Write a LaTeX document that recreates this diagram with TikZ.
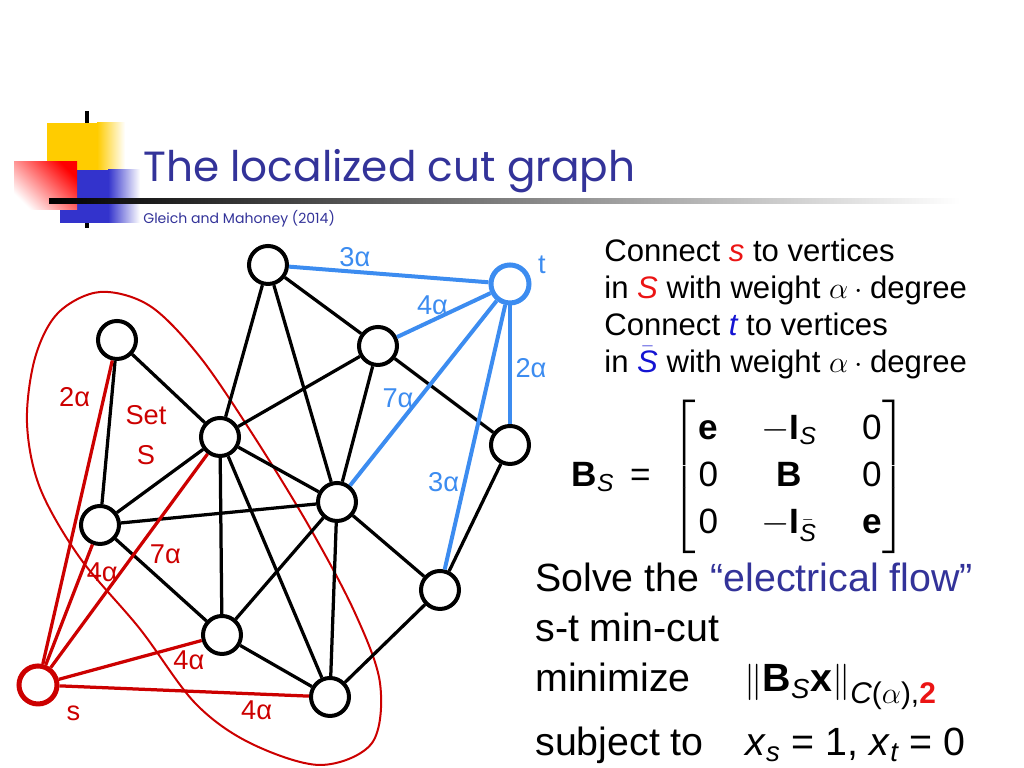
\documentclass[tikz,border=0pt]{standalone}
\usepackage{fontspec}
\usepackage{amsmath}
\usepackage{array}
\usepackage{xcolor}
\usepackage{tikz}
\usetikzlibrary{positioning}
\setmainfont{Liberation Sans}
\newfontfamily\titlefont{Poppins}
\definecolor{tblue}{RGB}{51,51,153}
\definecolor{sred}{RGB}{204,0,0}
\definecolor{tlink}{RGB}{60,140,240}
\definecolor{logoyel}{RGB}{255,204,0}
\definecolor{logoblu}{RGB}{51,51,204}
\definecolor{txtred}{RGB}{235,20,20}
\definecolor{txtblu}{RGB}{20,20,210}

\begin{document}
\begin{tikzpicture}[
		x=0.2mm, y=0.2mm,
		vtx/.style={circle,draw,line width=0.8mm,minimum size=7.6mm,inner sep=0pt,fill=white},
		edge/.style={line width=0.65mm},
		sedge/.style={edge,sred},
		tedge/.style={line width=0.8mm,tlink},
		wlbl/.style={font=\fontsize{15.5}{18}\selectfont,inner sep=2pt},
		rhs/.style={anchor=base west,inner sep=0pt,font=\fontsize{22.4}{27}\selectfont}
	]
	\useasboundingbox (0,0) rectangle (1024,768);

	% logo and title bar
	\draw[line width=0.8mm] (87,657) -- (87,540);
	\fill[logoyel] (47,598) rectangle (97,645);
	\shade[left color=logoyel,right color=white] (97,598) rectangle (125,645);
	\fill[logoblu] (60,545) rectangle (108,598);
	\shade[left color=logoblu,right color=white] (108,545) rectangle (140,598);
	\shade[top color=red,bottom color=white,shading angle=-45] (14,558) rectangle (77,606);
	\shade[left color=black,right color=white] (49,564.5) rectangle (960,569.5);

	\node[anchor=base west,inner sep=0pt,text=tblue,font=\titlefont\fontsize{24}{29}\selectfont] (title) at (143,586) {The localized cut graph};
	\node[anchor=base west,inner sep=0pt,text=tblue,font=\titlefont\fontsize{8}{10}\selectfont] (cite) at (143,544) {Gleich and Mahoney (2014)};

	% the set S
	\draw[sred,line width=0.4mm] plot[smooth cycle,tension=0.55] coordinates {
		(100,476) (150,462) (200,411) (255,330) (310,240) (355,155) (380,85) (372,25)
		(320,3) (250,25) (195,65) (140,139) (80,210) (40,280) (27,345) (35,410) (58,455)};

	\node[vtx] (top) at (268,503) {};
	\node[vtx] (a) at (117,428) {};
	\node[vtx] (b) at (378,422) {};
	\node[vtx] (c) at (220,331) {};
	\node[vtx] (d) at (510,323) {};
	\node[vtx] (e) at (337,266) {};
	\node[vtx] (f) at (100,243) {};
	\node[vtx] (g) at (440,178) {};
	\node[vtx] (h) at (222,133) {};
	\node[vtx] (i) at (330,71) {};
	\node[vtx,draw=tlink,line width=1mm,label={[wlbl,tlink,label distance=2pt]15:t}] (t) at (510,484) {};
	\node[vtx,draw=sred,line width=1mm,label={[wlbl,sred,label distance=5pt]-35:s}] (s) at (38,83) {};

	\draw[edge] (top) -- (b);
	\draw[edge] (top) -- (c);
	\draw[edge] (top) -- (e);
	\draw[edge] (a) -- (c);
	\draw[edge] (a) -- (f);
	\draw[edge] (b) -- (c);
	\draw[edge] (b) -- (e);
	\draw[edge] (b) -- (d);
	\draw[edge] (c) -- (f);
	\draw[edge] (c) -- (e);
	\draw[edge] (c) -- (h);
	\draw[edge] (c) -- (i);
	\draw[edge] (f) -- (e);
	\draw[edge] (f) -- (h);
	\draw[edge] (e) -- (h);
	\draw[edge] (e) -- (i);
	\draw[edge] (e) -- (g);
	\draw[edge] (d) -- (g);
	\draw[edge] (h) -- (i);
	\draw[edge] (i) -- (g);

	\draw[tedge] (top) -- node[wlbl,pos=.33,above] {3α} (t);
	\draw[tedge] (b) -- node[wlbl,pos=.38,above] {4α} (t);
	\draw[tedge] (t) -- node[wlbl,pos=.53,right] {2α} (d);
	\draw[tedge] (e) -- node[wlbl,pos=.47,left] {7α} (t);
	\draw[tedge] (g) -- node[wlbl,pos=.33,left] {3α} (t);

	\draw[sedge] (s) -- node[wlbl,pos=.88,left=5pt] {2α} (a);
	\draw[sedge] (s) -- node[wlbl,pos=.77,right] {4α} (f);
	\draw[sedge] (s) -- node[wlbl,pos=.6,below right] {7α} (c);
	\draw[sedge] (s) -- node[wlbl,pos=.91,below=1pt] {4α} (h);
	\draw[sedge] (s) -- node[wlbl,pos=.79,below=1pt] {4α} (i);

	\node[wlbl,text=sred,align=center,font=\fontsize{15.5}{22.7}\selectfont] (setS) at (146,333) {Set\\S};

	% right hand side
	\node[anchor=north west,inner sep=0pt,align=left,font=\fontsize{17.7}{21}\selectfont] (conn) at (604,529)
		{Connect \textcolor{txtred}{\itshape s} to vertices\\
		in \textcolor{txtred}{\itshape S} with weight $\alpha\cdot{}$degree\\
		Connect \textcolor{txtblu}{\itshape t} to vertices\\
		in \textcolor{txtblu}{$\bar{\text{\itshape S}}$} with weight $\alpha\cdot{}$degree};

	\node[anchor=east,inner sep=0pt,font=\fontsize{20}{24}\selectfont] (bmat) at (907,291)
		{\textbf{B}$_{\text{\itshape S}}$\hspace{9pt}=\hspace{12pt}$\left[\renewcommand{\arraystretch}{1.11}\begin{tabular}{@{}w{c}{14pt}@{}w{c}{78pt}@{}w{c}{16pt}@{\hspace{-2pt}}}
		\textbf{e} & $-$\textbf{I}$_{\text{\itshape S}}$ & 0\\
		0 & \textbf{B} & 0\\
		0 & $-$\textbf{I}$_{\bar{\text{\itshape S}}}$ & \textbf{e}
		\end{tabular}\right]$};

	\node[rhs] (solve) at (535,176) {Solve the \textcolor{tblue}{“electrical flow”}};
	\node[rhs] (mincut) at (535,126) {s-t min-cut};
	\node[rhs] (minz) at (535,76) {minimize};
	\node[rhs] (subj) at (535,12) {subject to};
	\node[rhs] (obj) at (744,76)
		{$\|$\textbf{B}$_{\text{\itshape S}}$\textbf{x}$\|$\raisebox{-0.3em}{\fontsize{17}{20}\selectfont\itshape C\upshape($\alpha$),\textcolor{txtred}{\bfseries 2}}};
	\node[rhs] (cons) at (745,12)
		{\textit{x}$_{\text{\itshape s}}$ = 1, \textit{x}$_{\text{\itshape t}}$ = 0};
\end{tikzpicture}
\end{document}
